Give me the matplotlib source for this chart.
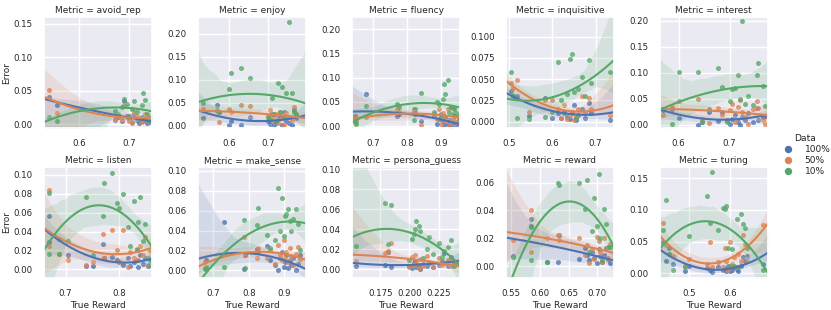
import matplotlib
matplotlib.use("Agg")
import matplotlib.pyplot as plt
import seaborn as sns
import numpy as np
from matplotlib.lines import Line2D

sns.set_theme(style="darkgrid")
plt.rcParams['font.family'] = ['DejaVu Sans']
plt.rcParams.update({
    "xtick.labelsize": 6.2, "ytick.labelsize": 6.2,
    "axes.labelsize": 6.5, "axes.titlesize": 6.5,
    "legend.fontsize": 6.5, "legend.title_fontsize": 6.7,
})

metrics = ["avoid_rep", "enjoy", "fluency", "inquisitive", "interest",
           "listen", "make_sense", "persona_guess", "reward", "turing"]
data_levels = ["100%", "50%", "10%"]

# ---- avoid_rep
avoid_rep_x = [0.540, 0.555, 0.672, 0.678, 0.685, 0.690, 0.695, 0.700, 0.705, 0.710, 0.715, 0.720, 0.725, 0.728, 0.732, 0.736, 0.740, 0.745]
avoid_rep_100 = [0.040, 0.028, 0.006, 0.010, 0.004, 0.035, 0.012, 0.008, 0.003, 0.015, 0.006, 0.002, 0.010, 0.004, 0.008, 0.001, 0.003, 0.005]
avoid_rep_50 = [0.051, 0.017, 0.008, 0.012, 0.006, 0.028, 0.010, 0.005, 0.002, 0.018, 0.012, 0.008, 0.003, 0.006, 0.015, 0.010, 0.004, 0.012]
avoid_rep_10 = [0.011, 0.005, 0.020, 0.015, 0.025, 0.037, 0.030, 0.012, 0.022, 0.035, 0.018, 0.008, 0.028, 0.046, 0.036, 0.015, 0.005, 0.010]

# ---- enjoy
enjoy_x = [0.533, 0.570, 0.575, 0.600, 0.604, 0.631, 0.652, 0.700, 0.705, 0.710, 0.715, 0.720, 0.725, 0.730, 0.735, 0.740, 0.745, 0.752, 0.760, 0.765, 0.770]
enjoy_100 = [0.018, 0.046, 0.030, 0.002, 0.010, 0.002, 0.020, 0.010, 0.004, 0.025, 0.002, 0.008, 0.015, 0.022, 0.002, 0.030, 0.010, 0.005, 0.001, 0.035, 0.018]
enjoy_50 = [0.037, 0.033, 0.008, 0.036, 0.030, 0.045, 0.043, 0.020, 0.035, 0.012, 0.022, 0.025, 0.005, 0.030, 0.018, 0.002, 0.028, 0.020, 0.012, 0.040, 0.025]
enjoy_10 = [0.050, 0.035, 0.030, 0.080, 0.116, 0.125, 0.104, 0.020, 0.015, 0.060, 0.025, 0.010, 0.094, 0.030, 0.085, 0.020, 0.072, 0.226, 0.072, 0.030, 0.025]

# ---- fluency
fluency_x = [0.645, 0.650, 0.680, 0.770, 0.775, 0.820, 0.825, 0.840, 0.880, 0.890, 0.895, 0.900, 0.905, 0.910, 0.913, 0.920, 0.925, 0.930, 0.935, 0.940, 0.945, 0.950]
fluency_100 = [0.020, 0.015, 0.066, 0.020, 0.025, 0.031, 0.025, 0.010, 0.020, 0.005, 0.015, 0.025, 0.010, 0.002, 0.018, 0.005, 0.012, 0.000, 0.008, 0.020, 0.003, 0.010]
fluency_50 = [0.018, 0.010, 0.018, 0.036, 0.030, 0.035, 0.030, 0.002, 0.025, 0.015, 0.035, 0.005, 0.028, 0.020, 0.010, 0.035, 0.002, 0.040, 0.015, 0.038, 0.008, 0.020]
fluency_10 = [0.009, 0.004, 0.042, 0.045, 0.040, 0.012, 0.035, 0.069, 0.030, 0.050, 0.045, 0.020, 0.055, 0.087, 0.067, 0.095, 0.030, 0.040, 0.025, 0.035, 0.028, 0.020]

# ---- inquisitive
inquisitive_x = [0.505, 0.509, 0.517, 0.546, 0.582, 0.600, 0.613, 0.620, 0.628, 0.635, 0.641, 0.645, 0.650, 0.655, 0.660, 0.669, 0.675, 0.685, 0.690, 0.734]
inquisitive_100 = [0.036, 0.030, 0.030, 0.007, 0.028, 0.005, 0.010, 0.004, 0.012, 0.006, 0.003, 0.010, 0.020, 0.002, 0.008, 0.015, 0.005, 0.022, 0.010, 0.002]
inquisitive_50 = [0.045, 0.040, 0.049, 0.011, 0.026, 0.025, 0.015, 0.005, 0.020, 0.003, 0.008, 0.012, 0.002, 0.006, 0.015, 0.030, 0.010, 0.028, 0.015, 0.008]
inquisitive_10 = [0.058, 0.030, 0.005, 0.003, 0.006, 0.012, 0.070, 0.025, 0.010, 0.033, 0.074, 0.080, 0.035, 0.005, 0.038, 0.052, 0.030, 0.072, 0.045, 0.058]

# ---- interest
interest_x = [0.570, 0.588, 0.600, 0.639, 0.645, 0.660, 0.678, 0.686, 0.695, 0.700, 0.705, 0.710, 0.716, 0.720, 0.724, 0.730, 0.735, 0.745, 0.753, 0.755, 0.765, 0.770]
interest_100 = [0.029, 0.030, 0.014, 0.000, 0.006, 0.025, 0.008, 0.025, 0.010, 0.002, 0.012, 0.020, 0.005, 0.000, 0.015, 0.010, 0.022, 0.005, 0.032, 0.010, 0.015, 0.018]
interest_50 = [0.020, 0.035, 0.046, 0.049, 0.012, 0.003, 0.033, 0.020, 0.010, 0.028, 0.040, 0.005, 0.035, 0.048, 0.025, 0.015, 0.002, 0.030, 0.045, 0.033, 0.010, 0.001]
interest_10 = [0.030, 0.001, 0.102, 0.101, 0.005, 0.030, 0.110, 0.073, 0.005, 0.045, 0.068, 0.070, 0.095, 0.050, 0.199, 0.040, 0.055, 0.038, 0.095, 0.118, 0.075, 0.037]

# ---- listen
listen_x = [0.669, 0.670, 0.688, 0.704, 0.737, 0.750, 0.769, 0.771, 0.787, 0.795, 0.800, 0.807, 0.815, 0.820, 0.827, 0.832, 0.835, 0.838, 0.843, 0.847, 0.852, 0.857]
listen_100 = [0.056, 0.029, 0.032, 0.015, 0.004, 0.003, 0.027, 0.012, 0.013, 0.010, 0.008, 0.005, 0.012, 0.003, 0.008, 0.010, 0.002, 0.015, 0.006, 0.012, 0.004, 0.010]
listen_50 = [0.084, 0.025, 0.016, 0.010, 0.005, 0.008, 0.037, 0.012, 0.042, 0.020, 0.008, 0.042, 0.002, 0.018, 0.012, 0.022, 0.010, 0.025, 0.015, 0.034, 0.005, 0.020]
listen_10 = [0.081, 0.016, 0.016, 0.030, 0.077, 0.015, 0.056, 0.091, 0.102, 0.070, 0.065, 0.080, 0.045, 0.025, 0.072, 0.020, 0.050, 0.077, 0.030, 0.048, 0.012, 0.005]

# ---- make_sense
make_sense_x = [0.675, 0.680, 0.730, 0.785, 0.790, 0.823, 0.827, 0.850, 0.860, 0.875, 0.883, 0.888, 0.893, 0.898, 0.903, 0.905, 0.910, 0.915, 0.920, 0.925, 0.932, 0.940, 0.945]
make_sense_100 = [0.002, 0.010, 0.049, 0.001, 0.015, 0.021, 0.018, 0.024, 0.010, 0.005, 0.000, 0.012, 0.018, 0.003, 0.008, 0.015, 0.002, 0.010, 0.005, 0.012, 0.000, 0.006, 0.015]
make_sense_50 = [0.008, 0.002, 0.016, 0.033, 0.015, 0.012, 0.022, 0.012, 0.020, 0.006, 0.025, 0.015, 0.010, 0.030, 0.012, 0.018, 0.008, 0.022, 0.014, 0.005, 0.016, 0.023, 0.011]
make_sense_10 = [0.001, 0.003, 0.003, 0.051, 0.002, 0.046, 0.063, 0.036, 0.022, 0.030, 0.083, 0.040, 0.073, 0.035, 0.055, 0.057, 0.062, 0.050, 0.040, 0.052, 0.062, 0.047, 0.020]

# ---- persona_guess
persona_guess_x = [0.154, 0.179, 0.182, 0.184, 0.200, 0.202, 0.204, 0.205, 0.206, 0.208, 0.209, 0.212, 0.215, 0.217, 0.220, 0.225, 0.228, 0.230, 0.233, 0.236, 0.238]
persona_guess_100 = [0.003, 0.004, 0.017, 0.002, 0.003, 0.001, 0.006, 0.008, 0.002, 0.004, 0.000, 0.005, 0.003, 0.006, 0.002, 0.004, 0.008, 0.016, 0.003, 0.012, 0.005]
persona_guess_50 = [0.008, 0.016, 0.018, 0.026, 0.002, 0.012, 0.004, 0.014, 0.006, 0.001, 0.010, 0.003, 0.013, 0.007, 0.002, 0.011, 0.004, 0.006, 0.009, 0.003, 0.008]
persona_guess_10 = [0.023, 0.0667, 0.025, 0.064, 0.009, 0.030, 0.035, 0.040, 0.048, 0.043, 0.038, 0.011, 0.020, 0.032, 0.015, 0.026, 0.012, 0.018, 0.022, 0.029, 0.003]

# ---- reward
reward_x = [0.554, 0.584, 0.585, 0.612, 0.632, 0.633, 0.668, 0.679, 0.682, 0.685, 0.690, 0.695, 0.700, 0.702, 0.705, 0.708, 0.712, 0.715, 0.718, 0.722]
reward_100 = [0.007, 0.029, 0.034, 0.003, 0.003, 0.022, 0.005, 0.013, 0.008, 0.004, 0.010, 0.006, 0.002, 0.012, 0.007, 0.003, 0.008, 0.013, 0.005, 0.002]
reward_50 = [0.019, 0.010, 0.040, 0.020, 0.022, 0.019, 0.020, 0.008, 0.015, 0.002, 0.012, 0.005, 0.021, 0.018, 0.010, 0.003, 0.020, 0.012, 0.006, 0.016]
reward_10 = [0.0067, 0.004, 0.028, 0.003, 0.060, 0.058, 0.060, 0.041, 0.062, 0.010, 0.025, 0.049, 0.029, 0.066, 0.020, 0.004, 0.041, 0.030, 0.014, 0.014]

# ---- turing
turing_x = [0.437, 0.443, 0.452, 0.460, 0.490, 0.500, 0.543, 0.550, 0.556, 0.571, 0.582, 0.588, 0.590, 0.595, 0.600, 0.605, 0.610, 0.617, 0.620, 0.627, 0.630, 0.635, 0.640, 0.681]
turing_100 = [0.049, 0.019, 0.040, 0.015, 0.004, 0.012, 0.008, 0.006, 0.002, 0.010, 0.005, 0.008, 0.004, 0.012, 0.003, 0.005, 0.010, 0.007, 0.003, 0.012, 0.025, 0.020, 0.028, 0.015]
turing_50 = [0.080, 0.044, 0.030, 0.028, 0.012, 0.022, 0.015, 0.050, 0.010, 0.018, 0.010, 0.040, 0.020, 0.006, 0.050, 0.015, 0.025, 0.010, 0.030, 0.020, 0.060, 0.047, 0.020, 0.077]
turing_10 = [0.069, 0.116, 0.030, 0.005, 0.010, 0.059, 0.122, 0.080, 0.160, 0.069, 0.103, 0.101, 0.107, 0.040, 0.012, 0.039, 0.012, 0.085, 0.010, 0.093, 0.078, 0.072, 0.040, 0.006]

panel_data = {
    "avoid_rep": (avoid_rep_x, [avoid_rep_100, avoid_rep_50, avoid_rep_10]),
    "enjoy": (enjoy_x, [enjoy_100, enjoy_50, enjoy_10]),
    "fluency": (fluency_x, [fluency_100, fluency_50, fluency_10]),
    "inquisitive": (inquisitive_x, [inquisitive_100, inquisitive_50, inquisitive_10]),
    "interest": (interest_x, [interest_100, interest_50, interest_10]),
    "listen": (listen_x, [listen_100, listen_50, listen_10]),
    "make_sense": (make_sense_x, [make_sense_100, make_sense_50, make_sense_10]),
    "persona_guess": (persona_guess_x, [persona_guess_100, persona_guess_50, persona_guess_10]),
    "reward": (reward_x, [reward_100, reward_50, reward_10]),
    "turing": (turing_x, [turing_100, turing_50, turing_10]),
}

# axis limits (layout)
xlims = {
    "avoid_rep": (0.530, 0.746), "enjoy": (0.521, 0.796), "fluency": (0.637, 0.957),
    "inquisitive": (0.492, 0.743), "interest": (0.563, 0.775), "listen": (0.660, 0.861),
    "make_sense": (0.656, 0.962), "persona_guess": (0.1507, 0.2435), "reward": (0.541, 0.729),
    "turing": (0.428, 0.692),
}
ylims = {
    "avoid_rep": (-0.006, 0.160), "enjoy": (-0.005, 0.237), "fluency": (-0.004, 0.225),
    "inquisitive": (-0.0074, 0.123), "interest": (-0.006, 0.207), "listen": (-0.0092, 0.1085),
    "make_sense": (-0.0077, 0.1039), "persona_guess": (-0.0087, 0.1023), "reward": (-0.0086, 0.0713),
    "turing": (-0.0074, 0.168),
}
yticks = {
    "avoid_rep": [0, 0.05, 0.10, 0.15], "enjoy": [0, 0.05, 0.10, 0.15, 0.20],
    "fluency": [0, 0.05, 0.10, 0.15, 0.20], "inquisitive": [0, 0.025, 0.05, 0.075, 0.10],
    "interest": [0, 0.05, 0.10, 0.15, 0.20], "listen": [0, 0.02, 0.04, 0.06, 0.08, 0.10],
    "make_sense": [0, 0.02, 0.04, 0.06, 0.08, 0.10], "persona_guess": [0, 0.02, 0.04, 0.06, 0.08, 0.10],
    "reward": [0, 0.02, 0.04, 0.06], "turing": [0, 0.05, 0.10, 0.15],
}
ytick_fmt = {
    "avoid_rep": "{:.2f}", "enjoy": "{:.2f}", "fluency": "{:.2f}", "inquisitive": "{:.3f}",
    "interest": "{:.2f}", "listen": "{:.2f}", "make_sense": "{:.2f}", "persona_guess": "{:.2f}",
    "reward": "{:.2f}", "turing": "{:.2f}",
}
xticks = {
    "avoid_rep": [0.6, 0.7], "enjoy": [0.6, 0.7], "fluency": [0.7, 0.8, 0.9],
    "inquisitive": [0.5, 0.6, 0.7], "interest": [0.6, 0.7], "listen": [0.7, 0.8],
    "make_sense": [0.7, 0.8, 0.9], "persona_guess": [0.175, 0.200, 0.225],
    "reward": [0.55, 0.60, 0.65, 0.70], "turing": [0.5, 0.6],
}
xtick_fmt = {
    "avoid_rep": "{:.1f}", "enjoy": "{:.1f}", "fluency": "{:.1f}", "inquisitive": "{:.1f}",
    "interest": "{:.1f}", "listen": "{:.1f}", "make_sense": "{:.1f}", "persona_guess": "{:.3f}",
    "reward": "{:.2f}", "turing": "{:.1f}",
}

colors = sns.color_palette("deep", 3)

fig, axes = plt.subplots(2, 5, figsize=(8.31, 3.10), dpi=100)
fig.subplots_adjust(left=44/831, right=768/831, top=1-17/310, bottom=1-278/310,
                    wspace=0.42, hspace=0.35)

for i, m in enumerate(metrics):
    ax = axes.flat[i]
    ax.set_xlim(*xlims[m])
    ax.set_ylim(*ylims[m])
    xs, ys_list = panel_data[m]
    for j, ys in enumerate(ys_list):
        sns.regplot(x=np.array(xs), y=np.array(ys), order=2, truncate=False, ax=ax,
                    color=colors[j], seed=0, n_boot=500,
                    scatter_kws={"s": 13, "linewidths": 0},
                    line_kws={"lw": 1.5})
    ax.set_xlim(*xlims[m])
    ax.set_ylim(*ylims[m])
    ax.set_yticks(yticks[m])
    ax.set_yticklabels([ytick_fmt[m].format(v) for v in yticks[m]])
    ax.set_xticks(xticks[m])
    ax.set_xticklabels([xtick_fmt[m].format(v) for v in xticks[m]])
    ax.tick_params(pad=2)
    ax.set_title(f"Metric = {m}", pad=3)
    ax.set_xlabel("True Reward" if i >= 5 else "", labelpad=2)
    ax.set_ylabel("Error" if i % 5 == 0 else "", labelpad=2)

handles = [Line2D([], [], marker="o", linestyle="", color=c, markersize=4.3) for c in colors]
fig.legend(handles, data_levels, title="Data", loc="center left",
           bbox_to_anchor=(0.928, 0.5), frameon=False, handletextpad=0.8,
           labelspacing=0.25)

fig.savefig("out.png", dpi=100)
